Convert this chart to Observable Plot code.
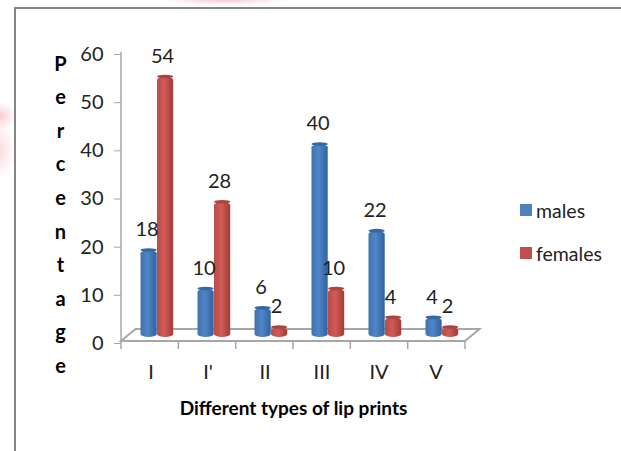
<!DOCTYPE html>
<html>
<head>
<meta charset="utf-8">
<script src="https://cdn.jsdelivr.net/npm/d3@7"></script>
<script src="https://cdn.jsdelivr.net/npm/@observablehq/plot@0.6"></script>
<style>
html, body { margin: 0; padding: 0; }
body {
  width: 621px; height: 451px; overflow: hidden; position: relative;
  background:
    radial-gradient(ellipse 65px 5px at 225px 0, #f8c6d0, rgba(255,255,255,0) 100%),
    radial-gradient(ellipse 16px 14px at 0 116px, #f9ccd2, rgba(255,255,255,0) 100%),
    radial-gradient(ellipse 15px 30px at 0 150px, #fbdde0, rgba(255,255,255,0) 100%),
    #fff;
}
#frame { position: absolute; left: 14px; top: 7px; right: -4px; bottom: -4px; border: 2px solid #858585; background: #fff; }
#chart { position: absolute; left: 0; top: 0; }
.legend { position: absolute; left: 520px; font: 19.5px Lato, sans-serif; color: #222; display: flex; align-items: center; gap: 4px; height: 20px; }
.legend i { display: block; width: 12px; height: 12px; }
</style>
</head>
<body>
<div id="frame"></div>
<div id="chart"></div>
<div class="legend" style="top:200px"><i style="background:#4f81bd"></i><span>males</span></div>
<div class="legend" style="top:243px"><i style="background:#c0504d"></i><span>females</span></div>
<script>
const categories = ["I", "I'", "II", "III", "IV", "V"];
const males = [18, 10, 6, 40, 22, 4];
const females = [54, 28, 2, 10, 4, 2];
const yTicks = [0, 10, 20, 30, 40, 50, 60];
const yTitle = "Percentage";
const xTitle = "Different types of lip prints";

const table = (vals) => categories.map((c, i) => ({c, v: vals[i]}));
const font = "Lato, sans-serif";
const axisGray = "#a6a6a6";

const defs = () => {
  const d = d3.create("svg:defs");
  const grad = (id, stops) => {
    const g = d.append("linearGradient").attr("id", id);
    stops.forEach(([o, col]) => g.append("stop").attr("offset", o).attr("stop-color", col));
  };
  grad("gBlue", [[0, "#3f72b0"], [0.45, "#4f86c8"], [1, "#2f619f"]]);
  grad("gRed", [[0, "#b84c49"], [0.45, "#d25a56"], [1, "#a03c3a"]]);
  return d.node();
};

// floor of the pseudo-3D chart: derived from the plot's own frame
const floor = (index, scales, values, dim) => {
  const l = dim.marginLeft, r = dim.width - dim.marginRight, y0 = scales.y(0);
  const step = (r - l) / categories.length, dx = 14.5, dy = 12;
  const g = d3.create("svg:g").attr("stroke", axisGray).attr("fill", "none");
  g.append("path").attr("stroke-width", 2)
    .attr("d", `M${l},${y0}L${l + dx},${y0 - dy}L${r + dx},${y0 - dy}L${r},${y0}Z`);
  g.append("path").attr("stroke-width", 1.5).attr("d", `M${l},${scales.y(60)}V${y0}`);
  d3.range(categories.length + 1).forEach(i =>
    g.append("path").attr("stroke-width", 1.5).attr("d", `M${l + i * step},${y0}v8`));
  return g.node();
};

const cylinders = (data, left, right, body, cap) => {
  const opts = {x: "c", insetLeft: left, insetRight: right, dy: -4, rx: 8, ry: 3};
  return [
    Plot.barY(data, {...opts, y1: 0, y2: "v", fill: body}),
    Plot.barY(data, {...opts, y1: d => d.v - 0.3, y2: d => d.v + 0.45, fill: cap})
  ];
};

const labels = (data, shift) => Plot.text(data, {
  x: "c", y: "v", text: d => String(d.v), dx: shift, dy: -25,
  fontSize: 20, fill: "#222", fontFamily: font
});

const plot = Plot.plot({
  width: 621, height: 451,
  marginLeft: 121, marginRight: 156, marginTop: 52, marginBottom: 110,
  style: {background: "transparent", overflow: "visible"},
  x: {domain: categories, padding: 0, axis: null},
  y: {domain: [0, 60], axis: null},
  marks: [
    defs,
    floor,
    Plot.axisY({ticks: yTicks, tickSize: 7, tickPadding: 11, stroke: axisGray, fontSize: 20, fontFamily: font, color: "#222", label: null, dy: 2}),
    Plot.axisX({tickSize: 0, tickPadding: 23, fontSize: 20, fontFamily: font, color: "#222", label: null}),
    ...cylinders(table(males), 18.5, 22.3, "url(#gBlue)", "#36689f"),
    ...cylinders(table(females), 35, 5.8, "url(#gRed)", "#aa4341"),
    labels(table(males), -4),
    labels(table(females), 11.5),
    Plot.text([yTitle.split("").join("\n")], {
      frameAnchor: "left", dx: -61, dy: 14, fontWeight: "bold", fontSize: 20,
      lineHeight: 1.68, fontFamily: font, fill: "#000", textAnchor: "middle"
    }),
    Plot.text([xTitle], {
      frameAnchor: "bottom", dy: 73, fontWeight: "bold", fontSize: 19,
      fontFamily: font, fill: "#000"
    })
  ]
});
document.getElementById("chart").append(plot);
</script>
</body>
</html>
